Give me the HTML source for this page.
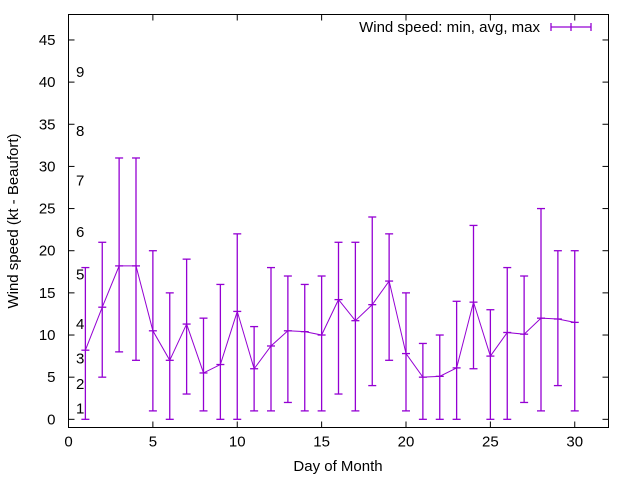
<!DOCTYPE html>
<html><head><meta charset="utf-8"><style>
body{margin:0;background:#fff}
svg{display:block;font-family:"Liberation Sans",sans-serif}
</style></head><body>
<svg id="c" width="640" height="480">
<g id="axes"></g>
<g id="marks"></g>
</svg>
<script>
const days=[1,2,3,4,5,6,7,8,9,10,11,12,13,14,15,16,17,18,19,20,21,22,23,24,25,26,27,28,29,30];
const minV=[0,5,8,7,1,0,3,1,0,0,1,1,2,1,1,3,1,4,7,1,0,0,0,6,0,0,2,1,4,1];
const avgV=[8.2,13.3,18.2,18.2,10.5,7,11.3,5.5,6.5,12.8,6,8.7,10.5,10.4,10,14.2,11.7,13.6,16.4,7.8,5,5.1,6.1,13.9,7.5,10.3,10.1,12,11.9,11.5];
const maxV=[18,21,31,31,20,15,19,12,16,22,11,18,17,16,17,21,21,24,22,15,9,10,14,23,13,18,17,25,20,20];
const xTicks=[0,5,10,15,20,25,30];
const yTicks=[0,5,10,15,20,25,30,35,40,45];
const bLabels=["1","2","3","4","5","6","7","8","9"];
const bPos=[1.3,4.2,7.2,11.3,17.2,22.2,28.3,34.2,41.2];
const L=68.5,R=608.5,T=14.5,B=427.5,XMAX=32,YMIN=-0.97,YMAX=48.02;
const sx=v=>L+(R-L)*v/XMAX, sy=v=>B-(B-T)*(v-YMIN)/(YMAX-YMIN);
const NS="http://www.w3.org/2000/svg";
function mk(p,t,a){const e=document.createElementNS(NS,t);for(const k in a)e.setAttribute(k,a[k]);p.appendChild(e);return e;}
const ax=document.getElementById('axes'),mg=document.getElementById('marks');
const frame=mk(ax,'rect',{x:L,y:T,width:R-L,height:B-T,fill:'none',stroke:'#000','stroke-width':1});


xTicks.forEach(v=>{const x=sx(v);
 mk(ax,'line',{x1:x,y1:B,x2:x,y2:B-6,stroke:'#000'});mk(ax,'line',{x1:x,y1:T,x2:x,y2:T+6,stroke:'#000'});
 const t=mk(ax,'text',{x:x,y:B+19,'text-anchor':'middle','font-size':15,fill:'#000'});t.textContent=v;
 
 });
yTicks.forEach(v=>{const y=sy(v);
 mk(ax,'line',{x1:L,y1:y,x2:L+6,y2:y,stroke:'#000'});mk(ax,'line',{x1:R,y1:y,x2:R-6,y2:y,stroke:'#000'});
 const t=mk(ax,'text',{x:L-13,y:y+5,'text-anchor':'end','font-size':15,fill:'#000'});t.textContent=v;
 
 });
bLabels.forEach((s,i)=>{const t=mk(ax,'text',{x:76,y:sy(bPos[i])+5,'font-size':15,fill:'#000'});t.textContent=s;
 
 });
let t=mk(ax,'text',{x:338,y:471,'text-anchor':'middle','font-size':15});t.textContent='Day of Month';


t=mk(ax,'text',{x:0,y:0,'text-anchor':'middle','font-size':15,transform:'translate(18,221) rotate(-90)'});t.textContent='Wind speed (kt - Beaufort)';


const C='#9400d3';
const line=mk(mg,'polyline',{points:days.map((d,i)=>sx(d)+','+sy(avgV[i])).join(' '),fill:'none',stroke:C,'stroke-width':1});


days.forEach((d,i)=>{const x=sx(d);const g=mk(mg,'g',{stroke:C,'stroke-width':1.3});
 
 
 mk(g,'line',{x1:x,y1:sy(minV[i]),x2:x,y2:sy(maxV[i])});
 [minV[i],maxV[i],avgV[i]].forEach(v=>mk(g,'line',{x1:x-4,y1:sy(v),x2:x+4,y2:sy(v)}));});
const lg=mk(ax,'g',{});


t=mk(lg,'text',{x:540,y:32,'text-anchor':'end','font-size':15});t.textContent='Wind speed: min, avg, max';
mk(lg,'line',{x1:551,y1:27,x2:591,y2:27,stroke:C,'stroke-width':1.3});
[551,571,591].forEach(x=>mk(lg,'line',{x1:x,y1:23,x2:x,y2:31,stroke:C,'stroke-width':1.3}));
</script>
</body></html>
